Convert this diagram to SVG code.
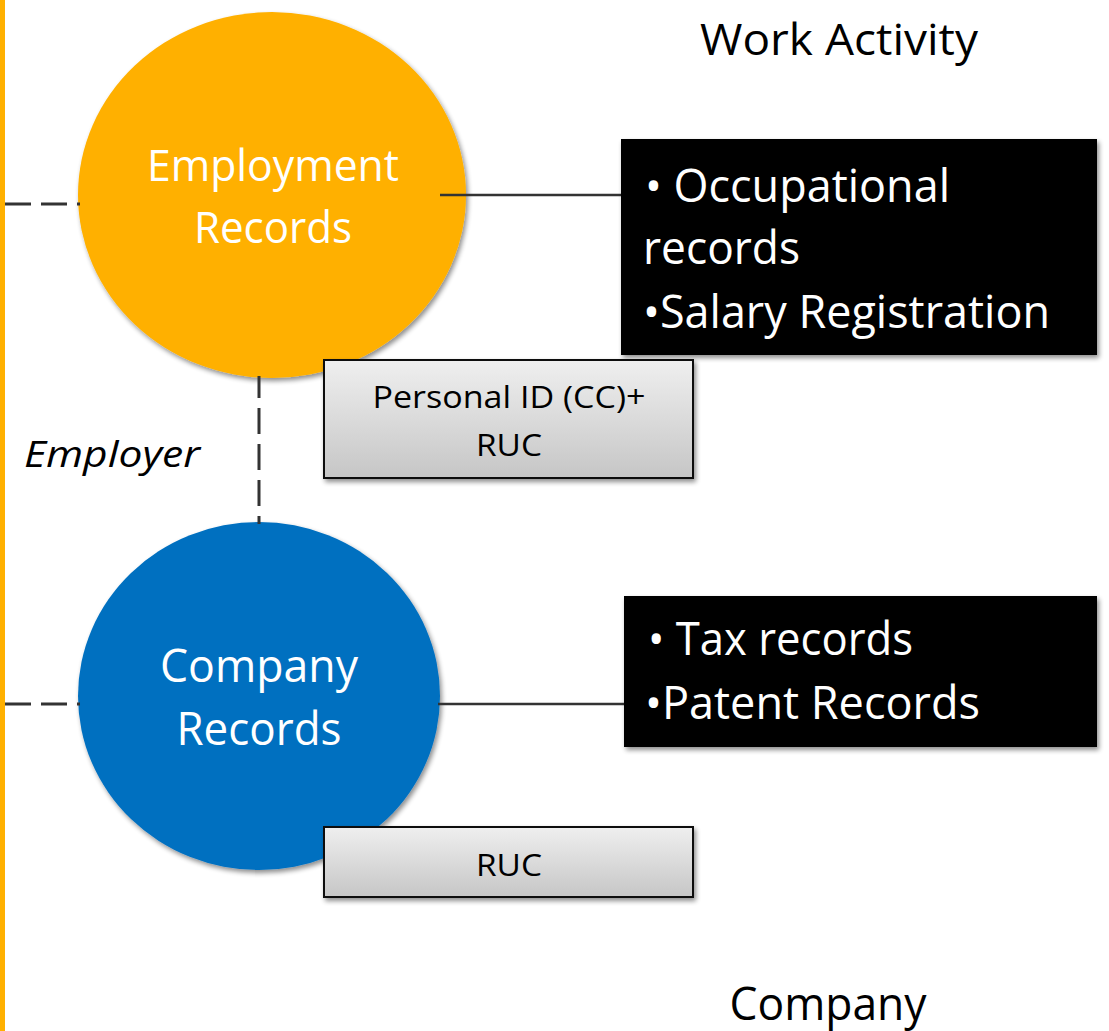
<svg xmlns="http://www.w3.org/2000/svg" width="1109" height="1031" viewBox="0 0 1109 1031">
<style>
.t{font-family:"Open Sans","Noto Sans","Liberation Sans",sans-serif}
.w{fill:#fff}
.k{fill:#000}
.dash{stroke:#333;stroke-width:3;stroke-dasharray:26 10;fill:none}
.solid{stroke:#333;stroke-width:2.5;fill:none}
.gbox{fill:url(#gg);stroke:#111;stroke-width:2}
</style>
<defs>
<linearGradient id="gg" x1="0" y1="0" x2="0" y2="1">
<stop offset="0" stop-color="#efefef"/>
<stop offset="1" stop-color="#c6c6c6"/>
</linearGradient>
<filter id="sh" x="-10%" y="-10%" width="125%" height="125%">
<feGaussianBlur in="SourceAlpha" stdDeviation="2.5"/>
<feOffset dx="2" dy="3" result="b"/>
<feComponentTransfer><feFuncA type="linear" slope="0.45"/></feComponentTransfer>
<feMerge><feMergeNode/><feMergeNode in="SourceGraphic"/></feMerge>
</filter>
</defs>
<rect width="1109" height="1031" fill="#fff"/>
<rect x="0" y="0" width="5" height="1031" fill="#FFB000"/>
<g id="title-work">
<text class="t k" x="839" y="55" font-size="43" text-anchor="middle" textLength="278" lengthAdjust="spacingAndGlyphs">Work Activity</text>
</g>
<g id="title-company">
<text class="t k" x="828" y="1020" font-size="45" text-anchor="middle" textLength="197" lengthAdjust="spacingAndGlyphs">Company</text>
</g>
<g id="employment-records">
<ellipse cx="272" cy="195" rx="194" ry="183" fill="#FFB000" filter="url(#sh)"/>
<text class="t w" x="273" y="181" font-size="43" text-anchor="middle" textLength="252" lengthAdjust="spacingAndGlyphs">Employment</text>
<text class="t w" x="273" y="243" font-size="43" text-anchor="middle" textLength="158" lengthAdjust="spacingAndGlyphs">Records</text>
</g>
<g id="company-records">
<ellipse cx="259" cy="696" rx="181" ry="174" fill="#0070C0" filter="url(#sh)"/>
<text class="t w" x="259" y="682" font-size="45" text-anchor="middle" textLength="198" lengthAdjust="spacingAndGlyphs">Company</text>
<text class="t w" x="259" y="745" font-size="45" text-anchor="middle" textLength="165" lengthAdjust="spacingAndGlyphs">Records</text>
</g>
<g id="connectors">
<line class="dash" x1="5" y1="204" x2="80" y2="204"/>
<line class="dash" x1="5" y1="704" x2="80" y2="704"/>
<line class="dash" x1="259" y1="376" x2="259" y2="524" stroke-dashoffset="4"/>
<line class="solid" x1="440" y1="195" x2="622" y2="195"/>
<line class="solid" x1="438" y1="704" x2="625" y2="704"/>
</g>
<g id="employer-label">
<text class="t k" x="24" y="467" font-size="37" font-style="italic" textLength="176" lengthAdjust="spacingAndGlyphs">Employer</text>
</g>
<g id="employment-details">
<rect x="621" y="139" width="476" height="216" fill="#000" filter="url(#sh)"/>
<text class="t w" x="645" y="202" font-size="45" textLength="305" lengthAdjust="spacingAndGlyphs">• Occupational</text>
<text class="t w" x="643" y="264" font-size="45" textLength="157" lengthAdjust="spacingAndGlyphs">records</text>
<text class="t w" x="643" y="328" font-size="45" textLength="407" lengthAdjust="spacingAndGlyphs">•Salary Registration</text>
</g>
<g id="company-details">
<rect x="624" y="596" width="473" height="151" fill="#000" filter="url(#sh)"/>
<text class="t w" x="648" y="655" font-size="45" textLength="265" lengthAdjust="spacingAndGlyphs">• Tax records</text>
<text class="t w" x="645" y="719" font-size="45" textLength="335" lengthAdjust="spacingAndGlyphs">•Patent Records</text>
</g>
<g id="employment-key">
<rect class="gbox" x="324" y="360" width="369" height="118" filter="url(#sh)"/>
<text class="t k" x="509" y="408" font-size="31" text-anchor="middle" textLength="273" lengthAdjust="spacingAndGlyphs" fill="#111">Personal ID (CC)+</text>
<text class="t k" x="509" y="456" font-size="31" text-anchor="middle" textLength="66" lengthAdjust="spacingAndGlyphs" fill="#111">RUC</text>
</g>
<g id="company-key">
<rect class="gbox" x="324" y="827" width="369" height="70" filter="url(#sh)"/>
<text class="t k" x="509" y="876" font-size="31" text-anchor="middle" textLength="66" lengthAdjust="spacingAndGlyphs" fill="#111">RUC</text>
</g>
</svg>
